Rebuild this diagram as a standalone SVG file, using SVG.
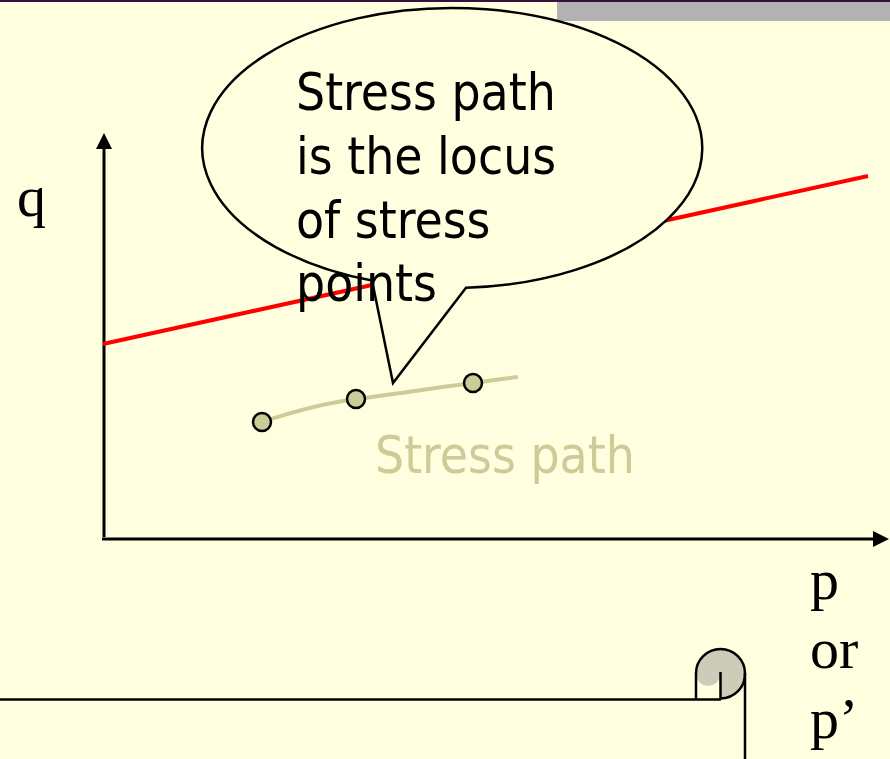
<svg xmlns="http://www.w3.org/2000/svg" width="890" height="759" viewBox="0 0 890 759">
<style>
.sans{font-family:"DejaVu Sans Condensed","DejaVu Sans",sans-serif;font-stretch:condensed;font-size:51px}
.serif{font-family:"Liberation Serif","Times New Roman",serif;font-size:58px;fill:#000}
.ax{stroke:#000;stroke-width:3;fill:none}
.pt{fill:#CCCC99;stroke:#000;stroke-width:2.5}
.sc{stroke:#000;stroke-width:2.5;fill:none}
</style>
<rect x="0" y="0" width="890" height="759" fill="#FFFFE0"/>
<rect x="557" y="0" width="333" height="21" fill="#B2B2B2"/>
<rect x="0" y="0" width="890" height="2" fill="#3B0F3B"/>

<g id="axes">
<line class="ax" x1="104" y1="537" x2="104" y2="147"/>
<polygon points="104,133 96,149 112,149" fill="#000"/>
<line class="ax" x1="102" y1="539" x2="875" y2="539"/>
<polygon points="889,539 873,531 873,547" fill="#000"/>
<text class="serif" x="17" y="216">q</text>
<text class="serif" x="810" y="599">p</text>
<text class="serif" x="810" y="668">or</text>
<text class="serif" x="810" y="738">p’</text>
</g>

<g id="failure-line">
<line x1="103" y1="344" x2="868" y2="176" stroke="#FF0000" stroke-width="4"/>
</g>

<g id="callout">
<path d="M372,280.6 L393,383 L466,287.8 A250,140 0 1 0 372,280.6 Z" fill="#FFFFE0" stroke="#000" stroke-width="2.5"/>
<text class="sans" fill="#000"><tspan x="296" y="110">Stress path</tspan><tspan x="296" y="174">is the locus</tspan><tspan x="296" y="238">of stress</tspan><tspan x="296" y="301">points</tspan></text>
</g>

<g id="stress-path">
<path d="M262,422 C295,411 325,403 356,399 S470,383 518,377" fill="none" stroke="#CCCC99" stroke-width="4"/>
<circle class="pt" cx="262" cy="422" r="9"/>
<circle class="pt" cx="356" cy="399" r="9"/>
<circle class="pt" cx="473" cy="383" r="9"/>
<text class="sans" fill="#CCCC99" x="375" y="473">Stress path</text>
</g>

<g id="scroll">
<path d="M696,673.5 A24.5,24.5 0 0 1 720.5,649 A24.5,24.5 0 0 1 745,673.5 A24.5,24.5 0 0 1 720.5,698 L720.5,673.5 A12.25,12.25 0 0 1 696,673.5 Z" fill="#CCCCB8"/>
<path class="sc" d="M696,673.5 A24.5,24.5 0 0 1 720.5,649 A24.5,24.5 0 0 1 745,673.5 A24.5,24.5 0 0 1 720.5,698.5"/>
<line class="sc" x1="0" y1="699.5" x2="721" y2="699.5"/>
<line class="sc" x1="745" y1="673" x2="745" y2="759"/>
<line class="sc" x1="696" y1="673" x2="696" y2="699.5"/>
<line class="sc" x1="720.5" y1="672" x2="720.5" y2="699.5"/>
</g>
</svg>
